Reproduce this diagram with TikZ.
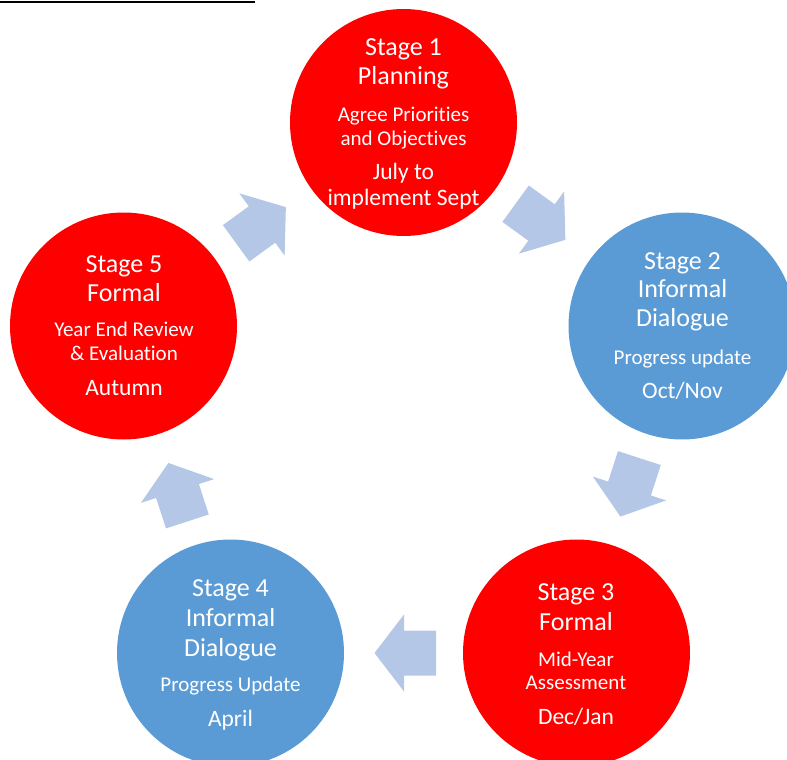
\documentclass[tikz,border=0pt]{standalone}
\usepackage{fontspec}
\setmainfont{Carlito}[RawFeature={-liga;-clig}]
\definecolor{stred}{HTML}{FF0000}
\definecolor{stblue}{HTML}{5B9BD5}
\definecolor{arrowblue}{HTML}{B4C7E7}
\tikzset{
  redcirc/.style={circle, fill=stred, draw=none, minimum size=227pt, inner sep=0pt},
  bluecirc/.style={circle, fill=stblue, draw=none, minimum size=227pt, inner sep=0pt},
  ttl/.style={anchor=base, text=white, inner sep=0pt, font=\fontsize{26}{29}\selectfont},
  sub/.style={anchor=base, text=white, inner sep=0pt, font=\fontsize{21}{24}\selectfont},
  dt/.style={anchor=base, text=white, inner sep=0pt, font=\fontsize{23.5}{26}\selectfont},
  blockarrow/.style={fill=arrowblue, draw=none}
}
\newcommand{\cyclearrow}[3]{%
  \path[blockarrow, shift={(#1,#2)}, rotate=#3]
    (-32,-22.5) -- (0,-22.5) -- (0,-38.5) -- (29.5,0) -- (0,38.5) -- (0,22.5) -- (-32,22.5) -- cycle;}
\begin{document}
\begin{tikzpicture}[x=1pt, y=-1pt]
\useasboundingbox (0,0) rectangle (787,760);
% cut-off heading underline
\draw[line width=2pt] (0,2.5) -- (255,2.5);
% circles
\node[redcirc]  (s1) at (403.5,122.5) {};
\node[bluecirc] (s2) at (682,326) {};
\node[redcirc]  (s3) at (576.5,653) {};
\node[bluecirc] (s4) at (230.5,653) {};
\node[redcirc]  (s5) at (123.5,326) {};
% arrows
\cyclearrow{262}{224.5}{36}
\cyclearrow{541.5}{222.5}{-36}
\cyclearrow{629.5}{488.5}{-108}
\cyclearrow{404}{653}{180}
\cyclearrow{177.5}{491}{108}
% Stage 1
\node[ttl] (s1a) at (403.5,56) {Stage 1};
\node[ttl] (s1b) at (403.5,84.5) {Planning};
\node[sub] (s1c) at (403.5,121.5) {Agree Priorities};
\node[sub] (s1d) at (403.5,145) {and Objectives};
\node[dt]  (s1e) at (403.5,179.5) {July to};
\node[dt]  (s1f) at (403.5,205) {implement Sept};
% Stage 2
\node[ttl] (s2a) at (682.5,269) {Stage 2};
\node[ttl] (s2b) at (682.5,297.7) {Informal};
\node[ttl] (s2c) at (682.5,326.7) {Dialogue};
\node[sub] (s2d) at (682.5,364) {Progress update};
\node[dt]  (s2e) at (682.5,398.3) {Oct/Nov};
% Stage 3
\node[ttl] (s3a) at (576,600) {Stage 3};
\node[ttl] (s3b) at (576,630) {Formal};
\node[sub] (s3c) at (576,666) {Mid-Year};
\node[sub] (s3d) at (576,689) {Assessment};
\node[dt]  (s3e) at (576,724) {Dec/Jan};
% Stage 4
\node[ttl] (s4a) at (230.5,596.7) {Stage 4};
\node[ttl] (s4b) at (230.5,626.7) {Informal};
\node[ttl] (s4c) at (230.5,656) {Dialogue};
\node[sub] (s4d) at (230.5,691.7) {Progress Update};
\node[dt]  (s4e) at (230.5,726.7) {April};
% Stage 5
\node[ttl] (s5a) at (124,272.7) {Stage 5};
\node[ttl] (s5b) at (124,301) {Formal};
\node[sub] (s5c) at (124,336.7) {Year End Review};
\node[sub] (s5d) at (124,360) {\& Evaluation};
\node[dt]  (s5e) at (124,395.7) {Autumn};
\end{tikzpicture}
\end{document}
